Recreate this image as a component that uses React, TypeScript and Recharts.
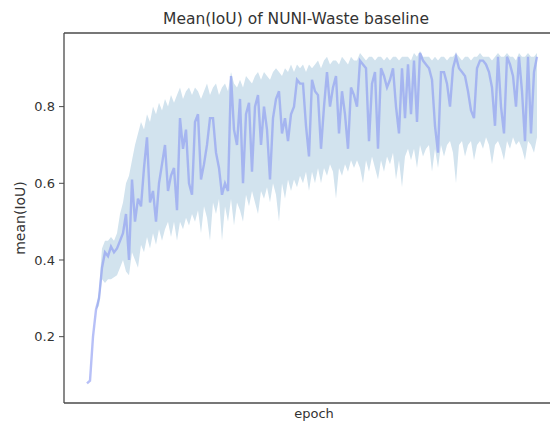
import React from "react";
import { ComposedChart, Area, Line, XAxis, YAxis } from "recharts";

const TITLE = "Mean(IoU) of NUNI-Waste baseline";
const X_LABEL = "epoch";
const Y_LABEL = "mean(IoU)";
const Y_TICKS = [0.2, 0.4, 0.6, 0.8];

const meanIoU = [
  0.078, 0.085, 0.2, 0.27, 0.3, 0.38, 0.42, 0.41, 0.435, 0.42,
  0.43, 0.45, 0.47, 0.52, 0.4, 0.61, 0.5, 0.56, 0.54, 0.64,
  0.72, 0.55, 0.58, 0.5, 0.6, 0.65, 0.7, 0.58, 0.62, 0.64,
  0.53, 0.77, 0.69, 0.74, 0.6, 0.57, 0.76, 0.78, 0.61, 0.65,
  0.7, 0.77, 0.77, 0.68, 0.64, 0.57, 0.6, 0.58, 0.88, 0.74,
  0.7, 0.82, 0.6, 0.78, 0.81, 0.63, 0.8, 0.83, 0.7, 0.8,
  0.74, 0.61, 0.77, 0.82, 0.84, 0.73, 0.77, 0.71, 0.78, 0.8,
  0.87, 0.86, 0.86, 0.75, 0.67, 0.87, 0.84, 0.83, 0.69, 0.8,
  0.89, 0.8, 0.85, 0.88, 0.73, 0.84, 0.78, 0.69, 0.85, 0.83,
  0.8, 0.92, 0.91, 0.9, 0.71, 0.86, 0.89, 0.69, 0.9, 0.88,
  0.85, 0.87, 0.9, 0.8, 0.73, 0.9, 0.77, 0.91, 0.78, 0.92,
  0.76, 0.94, 0.92, 0.91, 0.9, 0.87, 0.75, 0.68, 0.89, 0.89,
  0.86, 0.8, 0.9, 0.93, 0.9, 0.89, 0.88, 0.84, 0.79, 0.77,
  0.9, 0.92, 0.92, 0.91, 0.89, 0.85, 0.75, 0.93, 0.8, 0.73,
  0.93, 0.91, 0.88, 0.8, 0.93, 0.84, 0.71, 0.93, 0.73, 0.89,
  0.93,
];

const upperIoU = [
  0.078, 0.085, 0.2, 0.27, 0.32, 0.43, 0.45, 0.45, 0.46, 0.45,
  0.47, 0.52, 0.55, 0.6, 0.62, 0.66, 0.7, 0.73, 0.76, 0.74,
  0.78, 0.76, 0.8, 0.78, 0.81, 0.79, 0.82, 0.8, 0.83, 0.81,
  0.83, 0.85, 0.82, 0.84, 0.85, 0.83, 0.85, 0.84, 0.82, 0.84,
  0.86, 0.83, 0.85, 0.86, 0.83, 0.85, 0.86, 0.84, 0.89, 0.86,
  0.85, 0.87, 0.85, 0.88, 0.87, 0.86, 0.88, 0.89, 0.87, 0.89,
  0.88, 0.87, 0.89, 0.9, 0.89, 0.88, 0.9, 0.89, 0.91, 0.89,
  0.91, 0.9, 0.91, 0.89, 0.91, 0.9, 0.91, 0.92, 0.9, 0.92,
  0.93, 0.91, 0.92, 0.92, 0.91, 0.93, 0.92, 0.91, 0.93, 0.92,
  0.92, 0.94, 0.93, 0.92, 0.93, 0.93, 0.92, 0.93, 0.93, 0.92,
  0.93, 0.92, 0.93, 0.93, 0.92, 0.93, 0.93, 0.93, 0.92, 0.94,
  0.93, 0.945, 0.93, 0.93, 0.93, 0.92, 0.93, 0.92, 0.93, 0.93,
  0.92, 0.93, 0.93, 0.94, 0.93, 0.92, 0.93, 0.93, 0.92, 0.93,
  0.93, 0.94, 0.93, 0.93, 0.93, 0.92, 0.93, 0.94, 0.93, 0.93,
  0.94, 0.93, 0.93, 0.92, 0.94, 0.93, 0.93, 0.94, 0.93, 0.93,
  0.94,
];

const lowerIoU = [
  0.078, 0.085, 0.2, 0.27, 0.28, 0.35, 0.34, 0.35, 0.35, 0.355,
  0.36, 0.38, 0.4, 0.37, 0.36, 0.42, 0.4, 0.38, 0.44, 0.42,
  0.46, 0.43, 0.47, 0.44, 0.48, 0.45, 0.48, 0.5, 0.46, 0.5,
  0.45, 0.5, 0.48, 0.51, 0.49, 0.52, 0.5, 0.53, 0.47, 0.54,
  0.51, 0.45, 0.55, 0.52, 0.56, 0.45, 0.54, 0.5, 0.56, 0.49,
  0.55, 0.53, 0.5, 0.57, 0.54, 0.58, 0.55, 0.52, 0.58, 0.56,
  0.59, 0.55, 0.6, 0.57, 0.5, 0.6, 0.56, 0.61, 0.58, 0.61,
  0.59, 0.62, 0.6, 0.63, 0.58, 0.63, 0.6, 0.64, 0.6, 0.64,
  0.62, 0.65, 0.63, 0.56, 0.64, 0.62, 0.65, 0.63, 0.66, 0.64,
  0.66, 0.64, 0.6, 0.66, 0.63, 0.67, 0.64, 0.61, 0.66, 0.63,
  0.67, 0.65, 0.68, 0.61, 0.66, 0.59, 0.67, 0.69, 0.66, 0.69,
  0.64, 0.7, 0.67, 0.69, 0.7, 0.63, 0.69, 0.64, 0.7, 0.67,
  0.7, 0.71, 0.68, 0.6, 0.7, 0.71, 0.67, 0.7, 0.71, 0.66,
  0.7, 0.71, 0.69, 0.72, 0.7, 0.65, 0.7, 0.71, 0.69, 0.66,
  0.71, 0.69, 0.72, 0.7, 0.71, 0.69, 0.66, 0.71, 0.7, 0.68,
  0.72,
];

const data = meanIoU.map((m, i) => ({
  epoch: i,
  mean: m,
  band: [lowerIoU[i], upperIoU[i]],
}));

const FONT = "'DejaVu Sans', sans-serif";
const AXIS_COLOR = "#4a4a4a";
const TEXT_COLOR = "#333";

const YLabel = (props: any) => {
  const vb = props.viewBox || {};
  const cx = 19.5;
  const cy = (vb.y || 0) + (vb.height || 0) / 2;
  return (
    <text
      x={cx}
      y={cy}
      transform={`rotate(-90, ${cx}, ${cy})`}
      textAnchor="middle"
      dominantBaseline="central"
      fontSize={14}
      fontFamily={FONT}
      fill={TEXT_COLOR}
    >
      {Y_LABEL}
    </text>
  );
};

export default function App() {
  return (
    <div
      style={{
        position: "absolute",
        left: 0,
        top: 0,
        width: 550,
        height: 423,
        overflow: "hidden",
        background: "#fff",
      }}
    >
      <div
        style={{
          position: "absolute",
          left: 0,
          top: 10,
          width: 592,
          textAlign: "center",
          fontFamily: FONT,
          fontSize: 15.5,
          color: TEXT_COLOR,
          lineHeight: "19px",
        }}
      >
        {TITLE}
      </div>
      <ComposedChart
        width={570}
        height={423}
        data={data}
        margin={{ top: 32, right: 6, bottom: 0, left: 0 }}
      >
        <XAxis
          xAxisId="top"
          orientation="top"
          dataKey="epoch"
          type="number"
          domain={[-7.667, 159]}
          allowDataOverflow
          height={1}
          tick={false}
          tickLine={false}
          axisLine={{ stroke: AXIS_COLOR, strokeWidth: 1.3 }}
        />
        <XAxis
          dataKey="epoch"
          type="number"
          domain={[-7.667, 159]}
          allowDataOverflow
          height={20}
          tick={false}
          tickLine={false}
          axisLine={{ stroke: AXIS_COLOR, strokeWidth: 1.3 }}
          label={{
            value: X_LABEL,
            position: "insideBottom",
            offset: 5,
            fontSize: 13,
            fontFamily: FONT,
            fill: TEXT_COLOR,
          }}
        />
        <YAxis
          type="number"
          domain={[0.027, 0.992]}
          allowDataOverflow
          ticks={Y_TICKS}
          width={64}
          tickSize={5}
          tickMargin={4}
          tickLine={{ stroke: AXIS_COLOR }}
          axisLine={{ stroke: AXIS_COLOR, strokeWidth: 1.3 }}
          tick={{ fontSize: 13, fontFamily: FONT, fill: TEXT_COLOR }}
          tickFormatter={(v: number) => v.toFixed(1)}
          label={<YLabel />}
        />
        <Area
          dataKey="band"
          type="linear"
          stroke="none"
          fill="#d2e3ee"
          fillOpacity={1}
          isAnimationActive={false}
          activeDot={false}
        />
        <Line
          dataKey="mean"
          type="linear"
          stroke="rgb(135,150,242)"
          strokeOpacity={0.6}
          strokeWidth={2.4}
          dot={false}
          activeDot={false}
          isAnimationActive={false}
        />
      </ComposedChart>
    </div>
  );
}
